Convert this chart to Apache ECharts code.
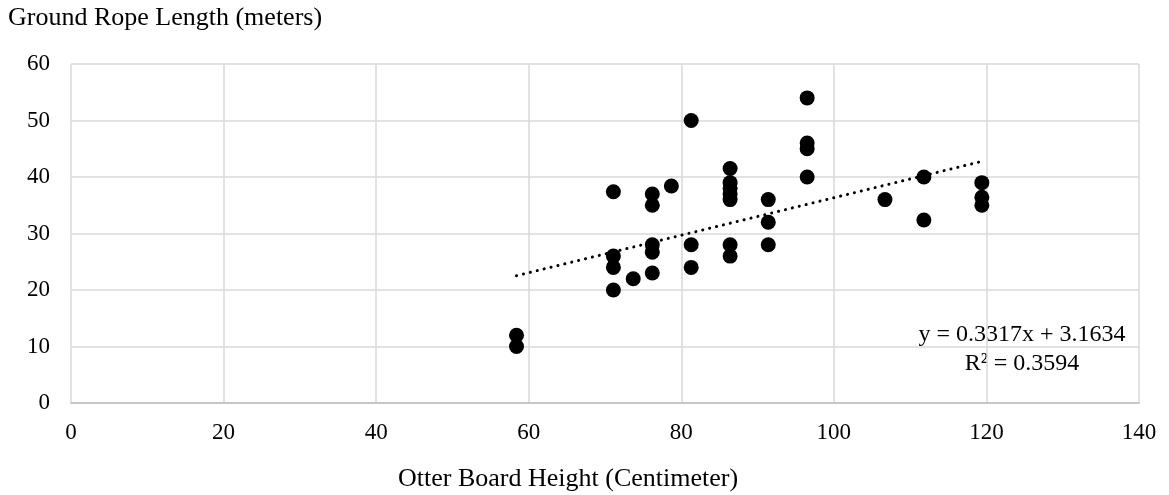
<!DOCTYPE html>
<html>
<head>
<meta charset="utf-8">
<script src="https://cdn.jsdelivr.net/npm/echarts@6/dist/echarts.min.js"></script>
<style>html,body{margin:0;padding:0;background:#fff}#c{width:1169px;height:495px}</style>
</head>
<body>
<div id="c"></div>
<script>
const xValues = [58.4,58.4,71.1,71.1,71.1,71.1,73.7,76.2,76.2,76.2,76.2,76.2,78.7,81.3,81.3,81.3,86.4,86.4,86.4,86.4,86.4,86.4,86.4,91.4,91.4,91.4,96.5,96.5,96.5,96.5,106.7,111.8,111.8,119.4,119.4,119.4];
const yValues = [12,10,37.4,26,24,20,22,37,35,28,26.7,23,38.4,50,28,24,41.5,39,38,37,36,28,26,36,32,28,54,46,45,40,36,40,32.4,39,36.4,35];
const trendSlope = 0.3317;
const trendIntercept = 3.1634;
const trendRange = [58.4, 119.4];
const xTicks = [0,20,40,60,80,100,120,140];
const yTicks = [0,10,20,30,40,50,60];
const yTitle = 'Ground Rope Length (meters)';
const xTitle = 'Otter Board Height (Centimeter)';
const eqLine1 = 'y = 0.3317x + 3.1634';
const eqLine2 = 'R² = 0.3594';

const FONT = '"Liberation Serif", "Times New Roman", serif';
const points = xValues.map((x,i)=>[x, yValues[i]]);
const trend = trendRange.map(x=>[x, trendSlope*x + trendIntercept]);

const chart = echarts.init(document.getElementById('c'), null, {renderer:'canvas'});
chart.setOption({
  animation:false,
  backgroundColor:'#fff',
  grid:{left:71, right:30, top:64, bottom:92, containLabel:false},
  xAxis:{
    type:'value', min:0, max:140, interval:20,
    axisLine:{show:true, lineStyle:{color:'#bfbfbf', width:1.5}},
    axisTick:{show:false},
    axisLabel:{color:'#000', fontFamily:FONT, fontSize:23, margin:18},
    splitLine:{show:true, lineStyle:{color:'#d9d9d9', width:1.5}}
  },
  yAxis:{
    type:'value', min:0, max:60, interval:10,
    axisLine:{show:false},
    axisTick:{show:false},
    axisLabel:{color:'#000', fontFamily:FONT, fontSize:23, margin:21},
    splitLine:{show:true, lineStyle:{color:'#d9d9d9', width:1.5}}
  },
  graphic:[
    {type:'text', left:8, top:5, style:{text:yTitle, font:'26px '+FONT, fill:'#000'}},
    {type:'text', left:398, top:466, style:{text:xTitle, font:'26px '+FONT, fill:'#000'}},
    {type:'text', x:1022, y:335, style:{text:eqLine1, font:'24px '+FONT, fill:'#000', align:'center', verticalAlign:'middle'}},
    {type:'text', x:1022, y:364, style:{text:eqLine2, font:'24px '+FONT, fill:'#000', align:'center', verticalAlign:'middle'}}
  ],
  series:[
    {type:'scatter', data:points, symbol:'circle', symbolSize:15, itemStyle:{color:'#000', opacity:1}, z:3},
    {type:'line', data:trend, symbol:'none', lineStyle:{color:'#000', width:3, type:[0.1,7], cap:'round'}, z:2}
  ]
});
</script>
</body>
</html>
